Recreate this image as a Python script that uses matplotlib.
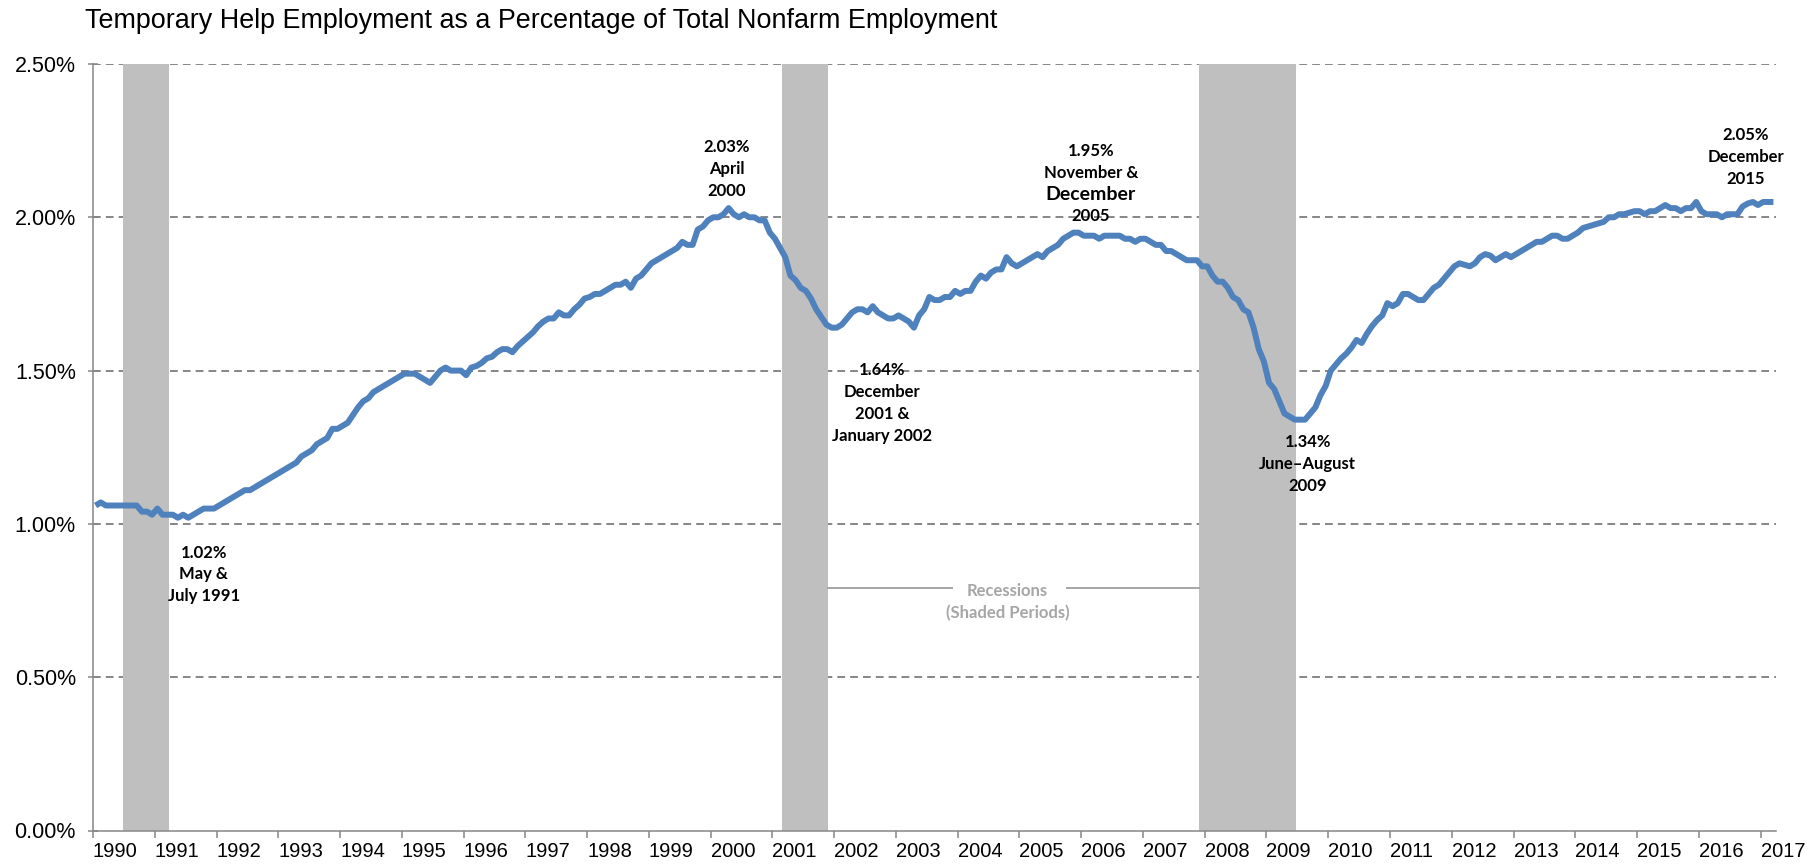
"""Temporary help employment as a share of total nonfarm employment, 1990-2017.

Monthly series (Jan 1990 - Mar 2017) with NBER recessions shaded and the
turning points called out, in the style of the original Excel chart.
"""

import matplotlib

matplotlib.use("Agg")
import matplotlib.pyplot as plt

START_YEAR = 1990

# temp help share of nonfarm employment, %, one row per year (Jan..Dec)
TEMP_SHARE = [
    1.06, 1.07, 1.06, 1.06, 1.06, 1.06, 1.06, 1.06, 1.06, 1.04, 1.04, 1.03,  # 1990
    1.05, 1.03, 1.03, 1.03, 1.02, 1.03, 1.02, 1.03, 1.04, 1.05, 1.05, 1.05,  # 1991
    1.06, 1.07, 1.08, 1.09, 1.10, 1.11, 1.11, 1.12, 1.13, 1.14, 1.15, 1.16,  # 1992
    1.17, 1.18, 1.19, 1.20, 1.22, 1.23, 1.24, 1.26, 1.27, 1.28, 1.31, 1.31,  # 1993
    1.32, 1.33, 1.355, 1.38, 1.40, 1.41, 1.43, 1.44, 1.45, 1.46, 1.47, 1.48,  # 1994
    1.49, 1.49, 1.49, 1.48, 1.47, 1.46, 1.48, 1.50, 1.51, 1.50, 1.50, 1.50,  # 1995
    1.485, 1.51, 1.515, 1.525, 1.54, 1.545, 1.56, 1.57, 1.57, 1.56, 1.58, 1.595,  # 1996
    1.61, 1.625, 1.645, 1.66, 1.67, 1.67, 1.69, 1.68, 1.68, 1.70, 1.715, 1.735,  # 1997
    1.74, 1.75, 1.75, 1.76, 1.77, 1.78, 1.78, 1.79, 1.77, 1.80, 1.81, 1.83,  # 1998
    1.85, 1.86, 1.87, 1.88, 1.89, 1.90, 1.92, 1.91, 1.91, 1.96, 1.97, 1.99,  # 1999
    2.00, 2.00, 2.01, 2.03, 2.01, 2.00, 2.01, 2.00, 2.00, 1.99, 1.99, 1.95,  # 2000
    1.93, 1.90, 1.87, 1.81, 1.795, 1.77, 1.76, 1.735, 1.70, 1.675, 1.65, 1.64,  # 2001
    1.64, 1.65, 1.67, 1.69, 1.70, 1.70, 1.69, 1.71, 1.69, 1.68, 1.67, 1.67,  # 2002
    1.68, 1.67, 1.66, 1.64, 1.68, 1.70, 1.74, 1.73, 1.73, 1.74, 1.74, 1.76,  # 2003
    1.75, 1.76, 1.76, 1.79, 1.81, 1.80, 1.82, 1.83, 1.83, 1.87, 1.85, 1.84,  # 2004
    1.85, 1.86, 1.87, 1.88, 1.87, 1.89, 1.90, 1.91, 1.93, 1.94, 1.95, 1.95,  # 2005
    1.94, 1.94, 1.94, 1.93, 1.94, 1.94, 1.94, 1.94, 1.93, 1.93, 1.92, 1.93,  # 2006
    1.93, 1.92, 1.91, 1.91, 1.89, 1.89, 1.88, 1.87, 1.86, 1.86, 1.86, 1.84,  # 2007
    1.84, 1.81, 1.79, 1.79, 1.77, 1.74, 1.73, 1.70, 1.69, 1.64, 1.57, 1.53,  # 2008
    1.46, 1.44, 1.40, 1.36, 1.35, 1.34, 1.34, 1.34, 1.36, 1.38, 1.42, 1.45,  # 2009
    1.50, 1.52, 1.54, 1.555, 1.575, 1.60, 1.59, 1.62, 1.645, 1.665, 1.68, 1.72,  # 2010
    1.71, 1.72, 1.75, 1.75, 1.74, 1.73, 1.73, 1.75, 1.77, 1.78, 1.80, 1.82,  # 2011
    1.84, 1.85, 1.845, 1.84, 1.85, 1.87, 1.88, 1.875, 1.86, 1.87, 1.88, 1.87,  # 2012
    1.88, 1.89, 1.90, 1.91, 1.92, 1.92, 1.93, 1.94, 1.94, 1.93, 1.93, 1.94,  # 2013
    1.95, 1.965, 1.97, 1.975, 1.98, 1.985, 2.00, 2.00, 2.01, 2.01, 2.015, 2.02,  # 2014
    2.02, 2.01, 2.02, 2.02, 2.03, 2.04, 2.03, 2.03, 2.02, 2.03, 2.03, 2.05,  # 2015
    2.02, 2.01, 2.01, 2.01, 2.00, 2.01, 2.01, 2.01, 2.035, 2.045, 2.05, 2.04,  # 2016
    2.05, 2.05, 2.05,  # 2017 (Jan-Mar)
]

# NBER peak / trough months
RECESSIONS = [("1990-07", "1991-03"), ("2001-03", "2001-11"), ("2007-12", "2009-06")]

Y_TICKS = [0.0, 0.5, 1.0, 1.5, 2.0, 2.5]
YEAR_LABELS = [str(y) for y in range(1990, 2018)]

CALLOUTS = [
    ["1.02%", "May &", "July 1991"],
    ["2.03%", "April", "2000"],
    ["1.64%", "December", "2001 &", "January 2002"],
    ["1.95%", "November &", "December", "2005"],
    ["1.34%", "June\u2013August", "2009"],
    ["2.05%", "December", "2015"],
]
# where each callout block is centred: (month index, percent)
CALLOUT_POS = [(21.5, 0.835), (123.2, 2.158), (153.3, 1.393),
               (193.9, 2.110), (236.0, 1.195), (321.1, 2.196)]
# the original sets one line a size larger: (callout, line) -> font size
BIG_LINES = {(3, 2): 14}

LINE_STEP = 15.8  # points between callout lines

LINE_BLUE = "#4F81BD"
SHADE = "#BFBFBF"
AXIS_GREY = "#868686"
LABEL_GREY = "#A6A6A6"


def month_index(ym: str) -> int:
    year, month = map(int, ym.split("-"))
    return (year - START_YEAR) * 12 + month - 1


def callout(ax, lines, xy, color="black", sizes=None):
    """Centred stack of bold lines, one annotate per line so sizes can differ."""
    sizes = sizes or {}
    mid = (len(lines) - 1) / 2
    for k, line in enumerate(lines):
        ax.annotate(line, xy, xytext=(0, (mid - k) * LINE_STEP), textcoords="offset points",
                    family=["Lato", "DejaVu Sans"], fontweight="bold",
                    fontsize=sizes.get(k, 12), color=color,
                    ha="center", va="center", zorder=4)


def main() -> None:
    plt.rcParams["font.family"] = ["Liberation Sans", "DejaVu Sans"]
    n = len(TEMP_SHARE)
    x = [i + 0.5 for i in range(n)]

    fig = plt.figure(figsize=(18.16, 8.65), dpi=100)
    ax = fig.add_axes([93 / 1816, 1 - 830.5 / 865, (1776 - 93) / 1816, (830.5 - 64) / 865])

    for start, end in RECESSIONS:
        ax.axvspan(month_index(start) - 0.2, month_index(end) + 0.8, color=SHADE, lw=0, zorder=2)

    for y in Y_TICKS[1:]:
        ax.axhline(y, color=AXIS_GREY, lw=1.4, ls=(0, (4, 2.6)), zorder=1)

    ax.plot(x, TEMP_SHARE, color=LINE_BLUE, lw=4.3, solid_joinstyle="round",
            solid_capstyle="butt", zorder=3)

    ax.set_xlim(0, n)
    ax.set_ylim(0, 2.5)

    ax.set_yticks(Y_TICKS)
    ax.set_yticklabels([f"{v:.2f}%" for v in Y_TICKS], fontsize=15.5)
    ax.set_xticks(range(0, n, 12))
    ax.set_xticklabels(YEAR_LABELS, fontsize=14.5, ha="left")

    for side in ("top", "right"):
        ax.spines[side].set_visible(False)
    for side in ("left", "bottom"):
        ax.spines[side].set_color(AXIS_GREY)
        ax.spines[side].set_linewidth(1.1)
    ax.tick_params(axis="y", direction="inout", length=6.5, width=1.1, color=AXIS_GREY, pad=9)
    ax.tick_params(axis="x", direction="out", length=5, width=1.1, color=AXIS_GREY, pad=3)

    for i, (lines, xy) in enumerate(zip(CALLOUTS, CALLOUT_POS)):
        big = {k: size for (c, k), size in BIG_LINES.items() if c == i}
        callout(ax, lines, xy, sizes=big)

    # recession legend between the 2001 and 2008 bars
    callout(ax, ["Recessions", "(Shaded Periods)"], (177.7, 0.746), color=LABEL_GREY)
    end_2001 = month_index(RECESSIONS[1][1]) + 0.8
    start_2008 = month_index(RECESSIONS[2][0]) - 0.2
    ax.plot([end_2001, 166.9], [0.79, 0.79], color=LABEL_GREY, lw=1.4, zorder=4)
    ax.plot([189.2, start_2008], [0.79, 0.79], color=LABEL_GREY, lw=1.4, zorder=4)

    fig.text(85 / 1816, 1 - 21 / 865,
             "Temporary Help Employment as a Percentage of Total Nonfarm Employment",
             fontsize=19.4, ha="left", va="center")

    fig.savefig("out.png", dpi=100)
    plt.close(fig)


if __name__ == "__main__":
    main()
